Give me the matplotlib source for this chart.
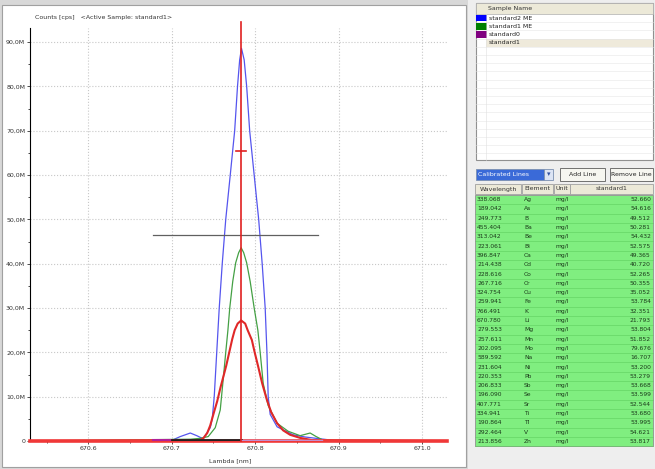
import matplotlib
matplotlib.use("Agg")
import matplotlib.pyplot as plt
import matplotlib.ticker as ticker
from matplotlib.patches import Rectangle

# spectra: wavelength [nm], counts [M cps]
blue_x = [670.530, 670.7006, 670.7102, 670.7222, 670.7300, 670.7377, 670.7461,
          670.7485, 670.7509, 670.7539, 670.7569, 670.7605, 670.7647, 670.7701,
          670.7754, 670.7788, 670.7814, 670.7836, 670.7868, 670.7898, 670.7934,
          670.7988, 670.8042, 670.8084, 670.8120, 670.8141, 670.8156, 670.8180,
          670.8263, 670.8455, 670.8599, 670.8778, 670.8958, 671.030]
blue_y = [0, 0.2, 1.0, 1.8, 1.2, 0.5, 3.0,
          5.0, 10, 20, 30, 40, 50, 60,
          70, 80, 86, 88.6, 86, 80, 70,
          60, 50, 40, 30, 20, 10, 6.0,
          3.2, 1.4, 0.9, 0.5, 0.1, 0]

green_x = [670.530, 670.7222, 670.7341, 670.7437, 670.7521, 670.7581, 670.7617,
           670.7647, 670.7673, 670.7695, 670.7731, 670.7766, 670.7802, 670.7832,
           670.7862, 670.7898, 670.7940, 670.7988, 670.8032, 670.8060, 670.8096,
           670.8156, 670.8263, 670.8395, 670.8539, 670.8659, 670.8731, 670.8814,
           671.030]
green_y = [0, 0.4, 0.6, 1.0, 3.0, 7.0, 14,
           20, 25, 30, 36, 40.2, 42.5, 43.6,
           42.5, 40.2, 36, 30, 25, 20, 13,
           8.0, 4.0, 2.2, 1.2, 1.8, 1.0, 0.2,
           0]

red_x = [670.530, 670.7329, 670.7377, 670.7425, 670.7461, 670.7503, 670.7545,
         670.7587, 670.7611, 670.7653, 670.7695, 670.7725, 670.7754, 670.7790,
         670.7832, 670.7880, 670.7910, 670.7960, 670.7994, 670.8036, 670.8084,
         670.8140, 670.8192, 670.8263, 670.8335, 670.8419, 670.8539, 670.8683,
         671.030]
red_y = [0, 0.1, 0.6, 1.8, 3.5, 6.3, 9.0,
         12.3, 14, 17, 20.5, 23, 25, 26.5,
         27.2, 26.5, 25, 22.8, 20, 16.8, 13,
         9.3, 6.5, 4.0, 2.4, 1.4, 0.7, 0.2,
         0]

line_wl = 670.783          # calibrated line position (Li 670.780)
bg_level = 46.5            # black horizontal marker
bg_span = (670.677, 670.875)
marker_level = 65.5

samples = ["standard2 ME", "standard1 ME", "standard0", "standard1"]
sample_colors = ["#0000ff", "#008000", "#800080", None]

wavelengths = ["338.068", "189.042", "249.773", "455.404", "313.042", "223.061",
               "396.847", "214.438", "228.616", "267.716", "324.754", "259.941",
               "766.491", "670.780", "279.553", "257.611", "202.095", "589.592",
               "231.604", "220.353", "206.833", "196.090", "407.771", "334.941",
               "190.864", "292.464", "213.856"]
elements = ["Ag", "As", "B", "Ba", "Be", "Bi", "Ca", "Cd", "Co", "Cr", "Cu", "Fe",
            "K", "Li", "Mg", "Mn", "Mo", "Na", "Ni", "Pb", "Sb", "Se", "Sr", "Ti",
            "Tl", "V", "Zn"]
values = ["52.660", "54.616", "49.512", "50.281", "54.432", "52.575", "49.365",
          "40.720", "52.265", "50.355", "35.052", "53.784", "32.351", "21.793",
          "53.804", "51.852", "79.676", "16.707", "53.200", "53.279", "53.668",
          "53.599", "52.544", "53.680", "53.995", "54.621", "53.817"]

W, H = 655, 469
fig = plt.figure(figsize=(W / 100, H / 100), dpi=100)
fig.patch.set_facecolor("#d8d8d8")

# background / right panel drawn in pixel coordinates
bg = fig.add_axes([0, 0, 1, 1])
bg.set_xlim(0, W)
bg.set_ylim(H, 0)
bg.axis("off")
bg.add_patch(Rectangle((2, 5), 464, 462, fc="white", ec="#a0a0a0", lw=0.8))
bg.add_patch(Rectangle((468, 0), 187, H, fc="#eeeeee", ec="none"))

# sample list
bg.add_patch(Rectangle((476, 3), 177, 157, fc="white", ec="#909090", lw=0.8))
bg.add_patch(Rectangle((476, 3), 177, 11, fc="#ece9d8", ec="#b0b0b0", lw=0.5))
bg.text(488, 8.5, "Sample Name", fontsize=4.5, va="center", color="#333333")
row_h = 8.2
for i in range(17):
    y = 14 + i * row_h
    bg.plot([476, 653], [y + row_h, y + row_h], color="#e6e6e6", lw=0.4)
bg.plot([486, 486], [14, 160], color="#e0e0e0", lw=0.4)
for i, (name, col) in enumerate(zip(samples, sample_colors)):
    y = 14 + i * row_h
    if col is None:
        bg.add_patch(Rectangle((486, y), 167, row_h, fc="#efeadb", ec="none"))
    else:
        bg.add_patch(Rectangle((476, y + 0.8), 11, row_h - 1.6, fc=col, ec="none"))
    bg.text(489, y + row_h / 2, name, fontsize=4.5, va="center", color="#222222")

# dropdown and buttons
bg.add_patch(Rectangle((476, 169), 68, 11, fc="#3a6ad8", ec="#7a8fb0", lw=0.6))
bg.text(478, 174.5, "Calibrated Lines", fontsize=4.5, va="center", color="white")
bg.add_patch(Rectangle((544, 169), 9, 11, fc="#dce4f4", ec="#7a8fb0", lw=0.6))
bg.text(548.5, 174.5, "\u25be", fontsize=5, va="center", ha="center", color="#3050a0")
for x0, w, label in [(560, 45, "Add Line"), (610, 43, "Remove Line")]:
    bg.add_patch(Rectangle((x0, 168), w, 13, fc="#f6f6f0", ec="#707070", lw=0.7))
    bg.text(x0 + w / 2, 174.5, label, fontsize=4.5, va="center", ha="center",
            color="#222222")

# results table
cols = [(475, 46, "Wavelength"), (522, 31, "Element"), (554, 16, "Unit"),
        (570, 83, "standard1")]
for x0, w, label in cols:
    bg.add_patch(Rectangle((x0, 184), w, 10, fc="#ece9d8", ec="#a0a0a0", lw=0.6))
    bg.text(x0 + w / 2, 189, label, fontsize=4.5, va="center", ha="center",
            color="#333333")
t_top, t_row = 195, 9.3
bg.add_patch(Rectangle((475, t_top), 178, t_row * len(values),
                       fc="#80ee80", ec="#909090", lw=0.6))
for i in range(len(values)):
    y = t_top + i * t_row
    bg.plot([475, 653], [y + t_row, y + t_row], color="#5fcf5f", lw=0.4)
    yc = y + t_row / 2
    bg.text(477, yc, wavelengths[i], fontsize=4.3, va="center", color="#1a3a1a")
    bg.text(524, yc, elements[i], fontsize=4.3, va="center", color="#1a3a1a")
    bg.text(555, yc, "mg/l", fontsize=4.3, va="center", color="#1a3a1a")
    bg.text(651, yc, values[i], fontsize=4.3, va="center", ha="right",
            color="#1a3a1a")

# spectrum plot
ax = fig.add_axes([30 / W, (H - 441) / H, (447 - 30) / W, (441 - 28) / H])
ax.set_facecolor("white")
ax.set_xlim(670.530, 671.030)
ax.set_ylim(0, 93.2)

ax.plot(blue_x, blue_y, color="#5555ee", lw=0.9, zorder=3)
ax.plot(green_x, green_y, color="#44a044", lw=0.9, zorder=3)
ax.plot(red_x, red_y, color="#e02828", lw=1.5, zorder=4)

# baseline, background markers and calibrated line
ax.plot([670.530, 671.030], [0, 0], color="#f03838", lw=2.6, zorder=5,
        clip_on=False)
ax.plot([670.677, 670.697], [0.3, 0.3], color="#b0209a", lw=2.2, zorder=6)
ax.plot([670.700, line_wl], [0.3, 0.3], color="#202020", lw=2.0, zorder=6)
ax.plot([line_wl, 670.880], [0.3, 0.3], color="#c090d0", lw=1.0, zorder=6)
ax.plot(list(bg_span), [bg_level, bg_level], color="#606060", lw=0.9, zorder=4)
ax.plot([line_wl, line_wl], [0, 94.6], color="#e02020", lw=1.2, zorder=6,
        clip_on=False)
ax.plot([line_wl - 0.006, line_wl + 0.006], [marker_level, marker_level],
        color="#e02020", lw=1.2, zorder=6)

ax.xaxis.set_major_locator(ticker.MultipleLocator(0.1))
ax.xaxis.set_minor_locator(ticker.MultipleLocator(0.05))
ax.yaxis.set_major_locator(ticker.MultipleLocator(10))
ax.yaxis.set_minor_locator(ticker.MultipleLocator(5))
ax.xaxis.set_major_formatter(ticker.FuncFormatter(lambda v, p: f"{v:.1f}"))
ax.yaxis.set_major_formatter(ticker.FuncFormatter(
    lambda v, p: "0" if abs(v) < 1e-9 else f"{v:.1f}M".replace(".", ",")))
ax.tick_params(labelsize=4.5, colors="#333333", length=2, width=0.6, pad=1.5)
ax.tick_params(which="minor", length=1.5, width=0.5)
ax.grid(True, which="major", color="#c8c8c8", ls=":", lw=0.8)
for s in ["top", "right", "bottom"]:
    ax.spines[s].set_visible(False)
ax.spines["left"].set_linewidth(0.8)

fig.text(35 / W, 1 - 18 / H, "Counts [cps]   <Active Sample: standard1>",
         fontsize=4.5, va="center", color="#333333")
fig.text(230 / W, 1 - 461 / H, "Lambda [nm]", fontsize=4.5, va="center",
         ha="center", color="#333333")

fig.savefig("out.png", dpi=100)
